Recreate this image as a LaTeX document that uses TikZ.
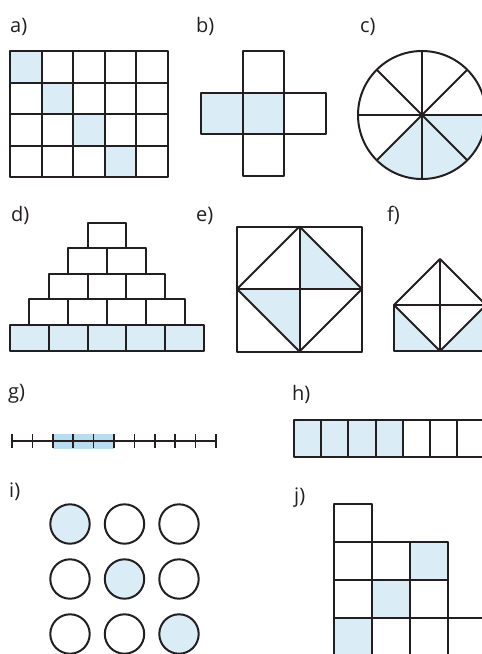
\documentclass[tikz,border=0pt]{standalone}
\usepackage{fontspec}
\setmainfont{Open Sans}
\usepackage{tikz}
\usetikzlibrary{calc}
\definecolor{ink}{RGB}{35,31,32}
\definecolor{pale}{RGB}{218,237,247}
\definecolor{deep}{RGB}{183,221,242}
\tikzset{lbl/.style={anchor=base west,inner sep=0pt,text=ink,font=\fontsize{20}{22}\selectfont},
  ln/.style={draw=ink,line width=2pt,line join=round},
  tint/.style={fill=pale}}

\begin{document}
\begin{tikzpicture}[x=1pt,y=-1pt]
\clip (0,0) rectangle (482,654);
\fill[white] (0,0) rectangle (482,654);
\node[lbl] (la) at (10,32) {a)};
\node[lbl] (lb) at (196,32) {b)};
\node[lbl] (lc) at (360,32) {c)};
\node[lbl] (ld) at (11,221) {d)};
\node[lbl] (le) at (196,221) {e)};
\node[lbl] (lf) at (387,221) {f)};
\node[lbl] (lg) at (8,398) {g)};
\node[lbl] (lh) at (292,400) {h)};
\node[lbl] (li) at (9,497) {i)};
\node[lbl] (lj) at (294,502) {j)};
\foreach \i in {0,...,3}
  \fill[tint] (10+\i*31.6,51+\i*31.5) rectangle +(31.6,31.5);
\foreach \c in {0,...,4}
  \foreach \r in {0,...,3}
    \draw[ln] (10+\c*31.6,51+\r*31.5) rectangle +(31.6,31.5);
\fill[tint] (201,92.5) rectangle (284.4,134.2);
\draw[ln] (242.7,50.8) rectangle (284.4,92.5);
\draw[ln] (242.7,134.2) rectangle (284.4,175.9);
\foreach \c in {0,1,2}
  \draw[ln] (201+\c*41.7,92.5) rectangle +(41.7,41.7);
\coordinate (cc) at (422,115);
\fill[tint] (cc) -- ++(0:64) arc[start angle=0,end angle=135,radius=64] -- cycle;
\draw[ln] (cc) circle[radius=64];
\foreach \a in {0,45,90,135}
  \draw[ln] ($(cc)+(\a:64)$) -- ($(cc)+(\a+180:64)$);
\foreach \k in {0,...,4} {
  \pgfmathtruncatemacro{\n}{4-\k}
  \foreach \j in {0,...,\n} {
    \ifnum\k=0 \fill[tint] (10+\j*38.8,325) rectangle +(38.8,25.8);\fi
    \draw[ln] (10+\k*19.4+\j*38.8,325-\k*25.6) rectangle +(38.8,25.6);
  }
}
\fill[tint] (299.5,226.5) -- (362,289) -- (299.5,289) -- cycle;
\fill[tint] (237,289) -- (299.5,289) -- (299.5,351.5) -- cycle;
\draw[ln] (237,226.5) rectangle (362,351.5);
\draw[ln] (299.5,226.5) -- (362,289) -- (299.5,351.5) -- (237,289) -- cycle;
\draw[ln] (299.5,226.5) -- (299.5,351.5) (237,289) -- (362,289);
\fill[tint] (394,305) -- (394,351) -- (440,351) -- cycle;
\fill[tint] (486,305) -- (486,351) -- (440,351) -- cycle;
\draw[ln] (394,305) rectangle (486,351);
\draw[ln] (394,305) -- (440,259) -- (486,305);
\draw[ln] (394,305) -- (440,351) -- (486,305);
\draw[ln] (440,259) -- (440,351);
\fill[deep] (52.8,433.5) rectangle (114,448.5);
\draw[ink,line width=1.5pt] (12,441) -- (216,441);
\foreach \t in {0,...,10}
  \draw[ink,line width=1.5pt] (12+\t*20.4,434) -- (12+\t*20.4,448);
\foreach \c in {0,...,7} {
  \ifnum\c<4 \fill[tint] (294+\c*27.2,420) rectangle +(27.2,37);\fi
  \draw[ln] (294+\c*27.2,420) rectangle +(27.2,37);
}
\foreach \r in {0,1,2}
  \foreach \c in {0,1,2} {
    \ifnum\r=\c
      \draw[ln,tint] (70+\c*54.5,524+\r*55) circle[radius=19.7];
    \else
      \draw[ln] (70+\c*54.5,524+\r*55) circle[radius=19.7];
    \fi
  }
\foreach \c/\r in {2/1,1/2,0/3}
  \fill[tint] (334+\c*38,504+\r*38) rectangle +(38,38);
\draw[ln] (334,504) rectangle +(38,38);
\foreach \r in {1,2}
  \foreach \c in {0,1,2}
    \draw[ln] (334+\c*38,504+\r*38) rectangle +(38,38);
\foreach \c in {0,...,3}
  \draw[ln] (334+\c*38,618) rectangle +(38,38);
\end{tikzpicture}
\end{document}
